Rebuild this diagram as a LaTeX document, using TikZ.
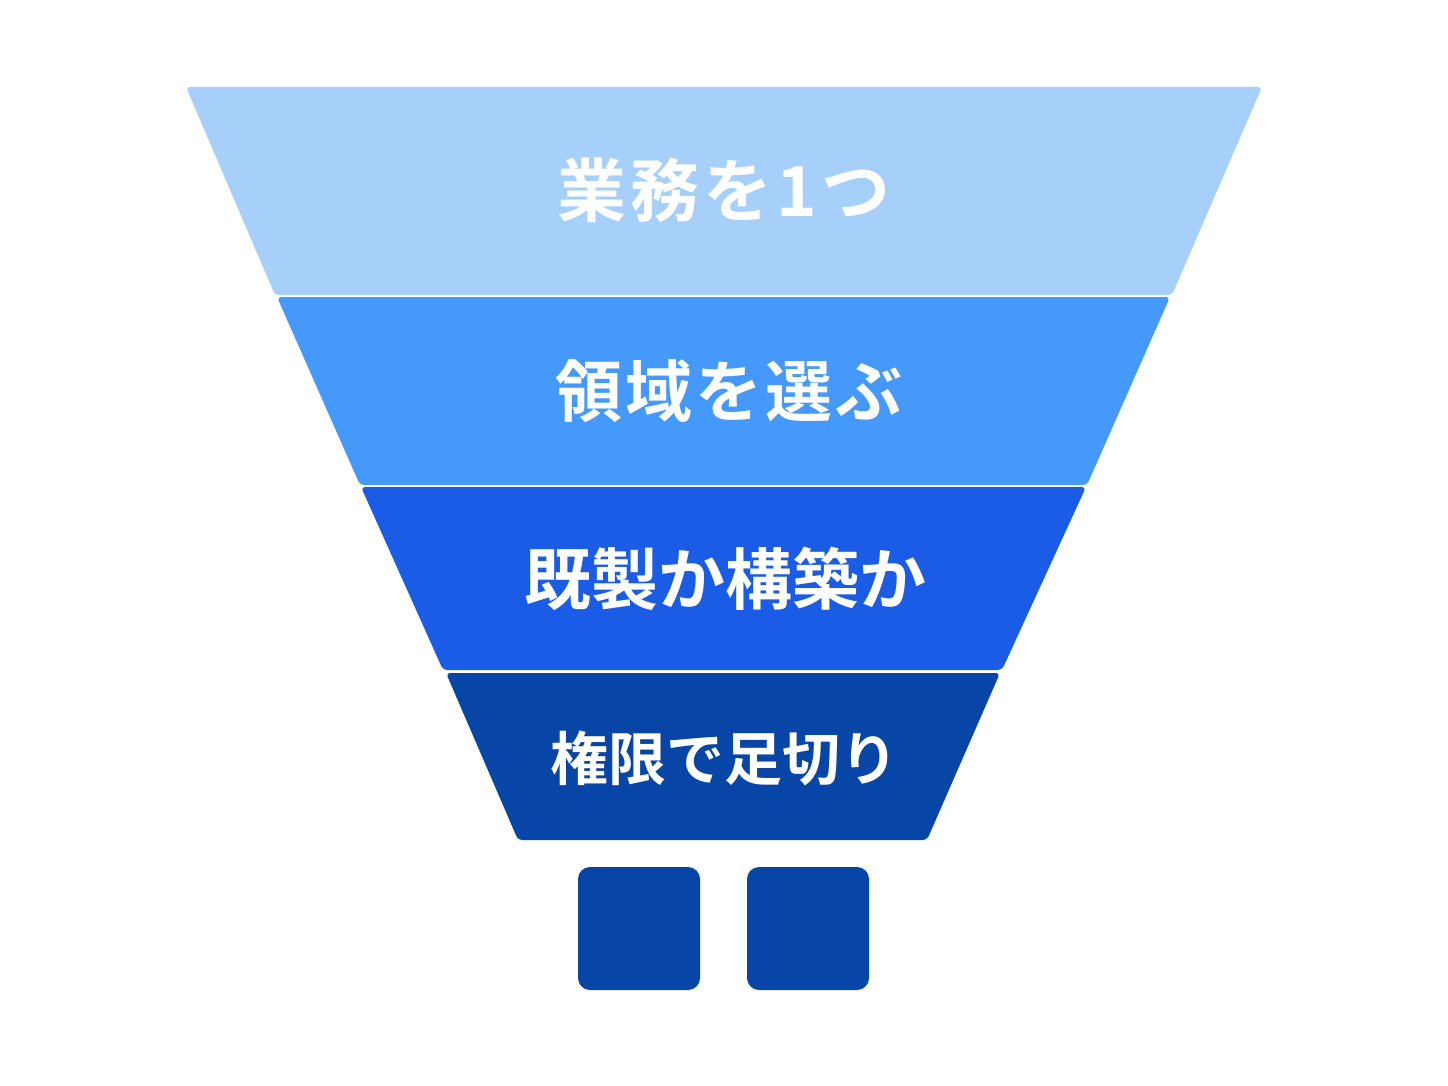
\documentclass[tikz,border=0pt]{standalone}
\usepackage{fontspec}
\newfontfamily\cjkb{Noto Sans CJK JP Bold}
\definecolor{c1}{HTML}{A6D0FA}
\definecolor{c2}{HTML}{4499FA}
\definecolor{c3}{HTML}{1B5CE6}
\definecolor{c4}{HTML}{0746A6}
\begin{document}
\begin{tikzpicture}[x=1pt,y=-1pt,
  layer/.style={rounded corners=4pt},
  lbl/.style={text=white,inner sep=0pt,anchor=center},
  sq/.style={fill=c4,rounded corners=12pt}]
\useasboundingbox (0,0) rectangle (1448,1086);
\fill[white] (0,0) rectangle (1448,1086);
\fill[c1,layer] (186,87) -- (1262,87) -- (1172,295) -- (275,295) -- cycle;
\fill[c2,layer] (277,297) -- (1170,297) -- (1087,485) -- (360,485) -- cycle;
\fill[c3,layer] (361,487) -- (1086,487) -- (1002,670) -- (443,670) -- cycle;
\fill[c4,layer] (446,673) -- (1000,673) -- (927,840) -- (518,840) -- cycle;
\node[lbl,font={\cjkb\fontsize{69}{75}\selectfont\addfontfeature{LetterSpace=6}}] (t1) at (724,190) {業務を1つ};
\node[lbl,font={\cjkb\fontsize{67}{73}\selectfont\addfontfeature{LetterSpace=4.5}}] (t2) at (729,391) {領域を選ぶ};
\node[lbl,font={\cjkb\fontsize{67}{73}\selectfont}] (t3) at (725,579) {既製か構築か};
\node[lbl,font={\cjkb\fontsize{58}{64}\selectfont}] (t4) at (724,758) {権限で足切り};
\fill[sq] (578,867) rectangle (700,990);
\fill[sq] (747,867) rectangle (869,990);
\end{tikzpicture}
\end{document}
